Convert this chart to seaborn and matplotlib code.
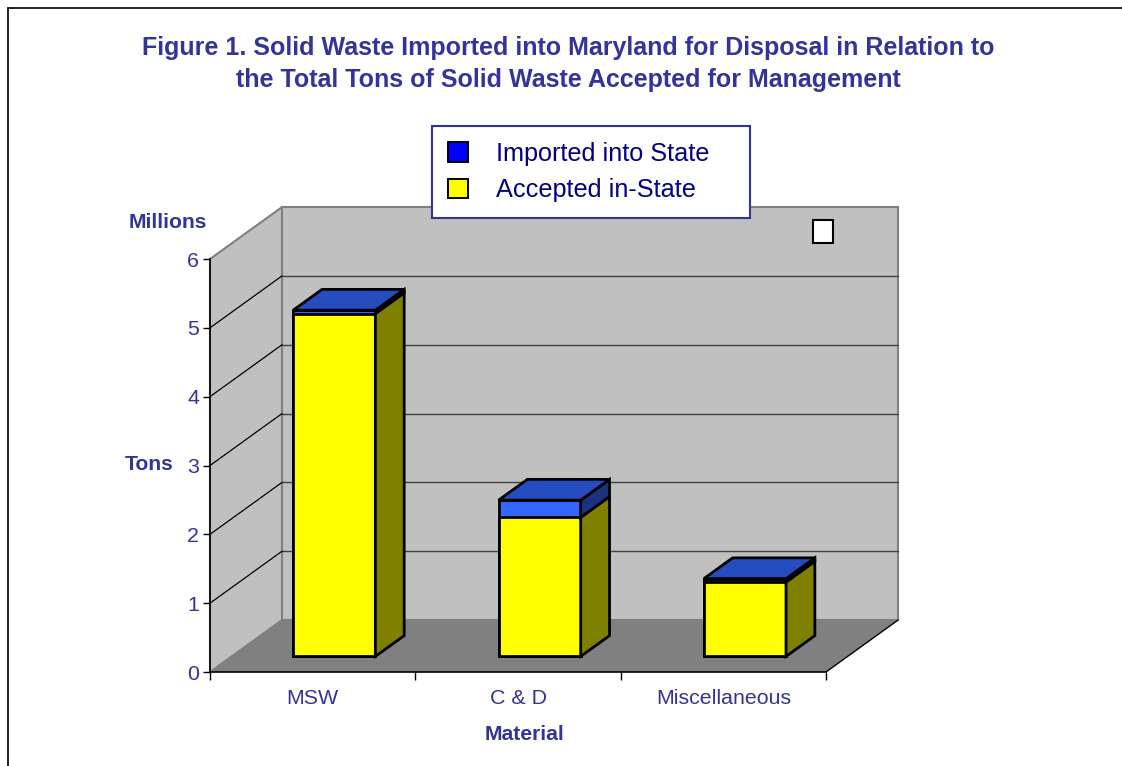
import matplotlib
matplotlib.use("Agg")
import matplotlib.pyplot as plt
from matplotlib.patches import Polygon, Patch, Rectangle
from matplotlib.lines import Line2D
import pandas as pd
import seaborn as sns

materials = ["MSW", "C & D", "Miscellaneous"]
accepted = [4.98, 2.02, 1.08]
imported = [0.05, 0.25, 0.05]
yticks = [0, 1, 2, 3, 4, 5, 6]

NAVY = "#333399"
YELLOW = "#FFFF00"
OLIVE = "#808000"
BLUE_FRONT = "#3366FF"
BLUE_TOP = "#264DC0"
BLUE_SIDE = "#1A3380"

df = pd.DataFrame({"Material": materials, "Accepted": accepted, "Imported": imported})
df["Total"] = df["Accepted"] + df["Imported"]

sns.set_style("white")
plt.rcParams["font.family"] = ["Liberation Sans", "DejaVu Sans"]

W, H = 1122, 766
fig = plt.figure(figsize=(W / 100, H / 100), dpi=100)
ax = fig.add_axes([210 / W, 1 - 672 / H, 616 / W, 413 / H])
ax.set_facecolor("none")

# depth vector of the fake 3d box, in data units
DX, DY = 0.351, 0.755
x0, x1 = -0.5, 2.5
ytop = yticks[-1]

# walls and floor
ax.add_patch(Polygon([(x0, 0), (x0, ytop), (x0 + DX, ytop + DY), (x0 + DX, DY)],
                     fc="#C0C0C0", ec="#808080", lw=1.5, zorder=0, clip_on=False))
ax.add_patch(Polygon([(x0 + DX, DY), (x0 + DX, ytop + DY), (x1 + DX, ytop + DY), (x1 + DX, DY)],
                     fc="#C0C0C0", ec="#808080", lw=1.5, zorder=0, clip_on=False))
ax.add_patch(Polygon([(x0, 0), (x1, 0), (x1 + DX, DY), (x0 + DX, DY)],
                     fc="#808080", ec="none", zorder=0.5, clip_on=False))
for t in yticks[1:-1]:
    ax.plot([x0 + DX, x1 + DX], [t + DY, t + DY], color="#404040", lw=1, zorder=0.6, clip_on=False)
    ax.plot([x0, x0 + DX], [t, t + DY], color="black", lw=0.9, zorder=0.6, clip_on=False)
ax.plot([x1, x1 + DX], [0, DY], color="black", lw=1, zorder=0.7, clip_on=False)

sns.barplot(data=df, x="Material", y="Total", color=BLUE_FRONT, width=0.4,
            edgecolor="black", linewidth=2, saturation=1, ax=ax, zorder=2)
sns.barplot(data=df, x="Material", y="Accepted", color=YELLOW, width=0.4,
            edgecolor="black", linewidth=2, saturation=1, ax=ax, zorder=3)

n = len(materials)
tot_bars = ax.patches[-2 * n:-n]
acc_bars = ax.patches[-n:]
front, depth = 0.3, 0.4
bdx, bdy = depth * DX, depth * DY
for pt, pa in zip(tot_bars, acc_bars):
    for p in (pt, pa):
        p.set_x(p.get_x() + front * DX)
        p.set_y(p.get_y() + front * DY)
        p.set_clip_on(False)
    xl = pt.get_x()
    xr = xl + pt.get_width()
    yb = pt.get_y()
    ya = yb + pa.get_height()
    yt = yb + pt.get_height()
    ax.add_patch(Polygon([(xr, yb), (xr + bdx, yb + bdy), (xr + bdx, ya + bdy), (xr, ya)],
                         fc=OLIVE, ec="black", lw=2, zorder=4, clip_on=False))
    ax.add_patch(Polygon([(xr, ya), (xr + bdx, ya + bdy), (xr + bdx, yt + bdy), (xr, yt)],
                         fc=BLUE_SIDE, ec="black", lw=2, zorder=4, clip_on=False))
    ax.add_patch(Polygon([(xl, yt), (xr, yt), (xr + bdx, yt + bdy), (xl + bdx, yt + bdy)],
                         fc=BLUE_TOP, ec="black", lw=2, zorder=5, clip_on=False))

ax.set_xlim(x0, x1)
ax.set_ylim(0, ytop)
ax.set_yticks(yticks)
ax.set_xticks(range(n))
ax.set_xticklabels(materials)
ax.set_xticks([x0 + i for i in range(n + 1)], minor=True)
ax.set_xlabel("")
ax.set_ylabel("")
ax.tick_params(axis="y", direction="out", length=5, width=1, color="black",
               labelsize=15.4, labelcolor=NAVY, pad=3, left=True)
ax.tick_params(axis="x", which="major", length=0, labelsize=15.4, labelcolor=NAVY, pad=12.5)
ax.tick_params(axis="x", which="minor", direction="out", length=6, width=1, color="black", bottom=True)
for s in ("top", "right"):
    ax.spines[s].set_visible(False)
for s in ("left", "bottom"):
    ax.spines[s].set_color("black")
    ax.spines[s].set_linewidth(1.2)
    ax.spines[s].set_zorder(6)

fig.text(568 / W, 1 - 64 / H, "Figure 1. Solid Waste Imported into Maryland for Disposal in Relation to\n"
         "the Total Tons of Solid Waste Accepted for Management",
         ha="center", va="center", fontsize=18, fontweight="bold", color=NAVY, linespacing=1.45)
fig.text(168 / W, 1 - 222 / H, "Millions", ha="center", va="center", fontsize=15.2, fontweight="bold", color=NAVY)
fig.text(149 / W, 1 - 465 / H, "Tons", ha="center", va="center", fontsize=15.2, fontweight="bold", color=NAVY)
fig.text(524 / W, 1 - 735 / H, "Material", ha="center", va="center", fontsize=15.2, fontweight="bold", color=NAVY)

handles = [Patch(fc="#0000FF", ec="black", lw=1.4), Patch(fc=YELLOW, ec="black", lw=1.4)]
leg = fig.legend(handles, ["Imported into State", "Accepted in-State"], loc="upper left",
                 bbox_to_anchor=(432 / W, 1 - 209 / H, 318 / W, 83 / H), mode="expand",
                 fontsize=18.2, labelcolor="#000080",
                 fancybox=False, framealpha=1, edgecolor=NAVY, handlelength=0.8, handleheight=0.8,
                 handletextpad=1.1, borderpad=0.62, labelspacing=0.5, borderaxespad=0)
leg.get_frame().set_linewidth(1.5)

# stray empty legend key left in the original
fig.patches.append(Rectangle((813 / W, 1 - 243 / H), 20 / W, 23 / H, fc="white", ec="black",
                             lw=1.5, transform=fig.transFigure, figure=fig))
fig.lines.append(Line2D([8 / W, 1], [1 - 8 / H, 1 - 8 / H], color="black", lw=1.2, transform=fig.transFigure))
fig.lines.append(Line2D([8 / W, 8 / W], [0, 1 - 8 / H], color="black", lw=1.2, transform=fig.transFigure))

fig.savefig("out.png", dpi=100)
